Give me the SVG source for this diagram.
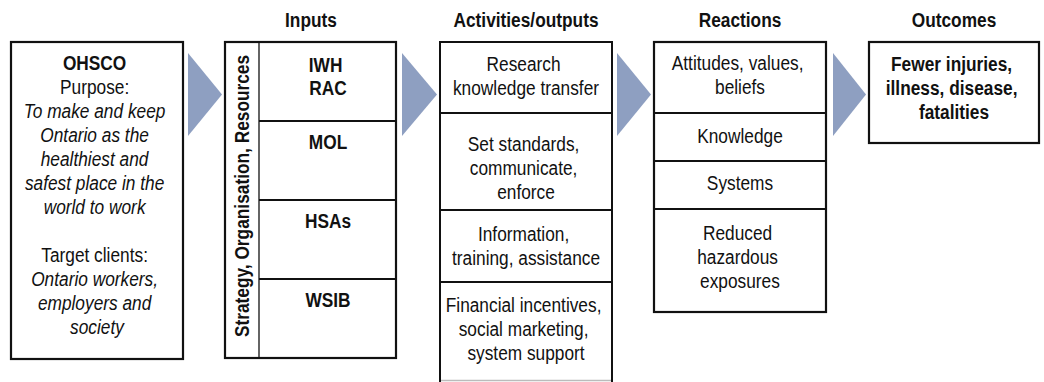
<svg xmlns="http://www.w3.org/2000/svg" width="1044" height="382" viewBox="0 0 1044 382">
<style>
  .box { fill: #ffffff; stroke: #111111; stroke-width: 2.2; }
  .div { stroke: #111111; stroke-width: 2; fill: none; }
  .thin { stroke: #111111; stroke-width: 1.3; fill: none; }
  .arrow { fill: #8e9fc1; stroke: none; }
  text { font-family: "Liberation Sans", Arial, sans-serif; font-size: 17.3px; fill: #111111; text-anchor: middle; }
  .b { font-weight: bold; }
  .i { font-style: italic; }
</style>
<rect width="1044" height="382" fill="#ffffff"/>

<g id="headers">
  <text class="b" transform="translate(311,27) scale(1,1.12)">Inputs</text>
  <text class="b" transform="translate(526,27) scale(1,1.12)">Activities/outputs</text>
  <text class="b" transform="translate(740,27) scale(1,1.12)">Reactions</text>
  <text class="b" transform="translate(954,27) scale(1,1.12)">Outcomes</text>
</g>

<g id="connectors">
  <polygon class="arrow" points="188,53 222,94.5 188,136"/>
  <polygon class="arrow" points="402,53 437,94.5 402,136"/>
  <polygon class="arrow" points="617,53 651,94.5 617,136"/>
  <polygon class="arrow" points="833,53 866,94.5 833,136"/>
</g>

<g id="ohsco">
  <rect class="box" x="11" y="42" width="172" height="317"/>
  <text transform="translate(97,70) scale(1,1.12)">
    <tspan class="b" x="0" y="0">OHSCO</tspan>
    <tspan x="0" y="21.43">Purpose:</tspan>
    <tspan class="i" x="0" y="42.86">To make and keep</tspan>
    <tspan class="i" x="0" y="64.29">Ontario as the</tspan>
    <tspan class="i" x="0" y="85.71">healthiest and</tspan>
    <tspan class="i" x="0" y="107.14">safest place in the</tspan>
    <tspan class="i" x="0" y="128.57">world to work</tspan>
    <tspan x="0" y="171.43">Target clients:</tspan>
    <tspan class="i" x="0" y="192.86">Ontario workers,</tspan>
    <tspan class="i" x="0" y="214.29">employers and</tspan>
    <tspan class="i" x="0" y="235.71">society</tspan>
  </text>
</g>

<g id="inputs">
  <rect class="box" x="225" y="42" width="171" height="316"/>
  <line class="thin" x1="259" y1="42" x2="259" y2="358"/>
  <line class="div" x1="259" y1="121" x2="396" y2="121"/>
  <line class="div" x1="259" y1="200" x2="396" y2="200"/>
  <line class="div" x1="259" y1="279" x2="396" y2="279"/>
  <text class="b" transform="translate(249,196) rotate(-90) scale(1,1.12)">Strategy, Organisation, Resources</text>
  <text class="b" transform="translate(328,72) scale(1,1.12)">
    <tspan x="0" y="0">IWH</tspan>
    <tspan x="0" y="20.54">RAC</tspan>
  </text>
  <text class="b" transform="translate(328,149) scale(1,1.12)">MOL</text>
  <text class="b" transform="translate(328,228) scale(1,1.12)">HSAs</text>
  <text class="b" transform="translate(328,307) scale(1,1.12)">WSIB</text>
</g>

<g id="activities">
  <line x1="439" y1="380.5" x2="613" y2="380.5" stroke="#bbbbbb" stroke-width="1.5"/>
  <path class="div" d="M440,382 V42 H612 V382" stroke-width="2.2"/>
  <line class="div" x1="440" y1="113" x2="612" y2="113"/>
  <line class="div" x1="440" y1="210" x2="612" y2="210"/>
  <line class="div" x1="440" y1="282" x2="612" y2="282"/>
  <text transform="translate(526,71) scale(1,1.12)">
    <tspan x="0" y="0">Research</tspan>
    <tspan x="0" y="21.43">knowledge transfer</tspan>
  </text>
  <text transform="translate(526,151) scale(1,1.12)">
    <tspan x="0" y="0">Set standards,</tspan>
    <tspan x="0" y="21.43">communicate,</tspan>
    <tspan x="0" y="42.86">enforce</tspan>
  </text>
  <text transform="translate(526,241) scale(1,1.12)">
    <tspan x="0" y="0">Information,</tspan>
    <tspan x="0" y="21.43">training, assistance</tspan>
  </text>
  <text transform="translate(526,312) scale(1,1.12)">
    <tspan x="0" y="0">Financial incentives,</tspan>
    <tspan x="0" y="21.43">social marketing,</tspan>
    <tspan x="0" y="42.86">system support</tspan>
  </text>
</g>

<g id="reactions">
  <rect class="box" x="654" y="42" width="172" height="270"/>
  <line class="div" x1="654" y1="113" x2="826" y2="113"/>
  <line class="div" x1="654" y1="161" x2="826" y2="161"/>
  <line class="div" x1="654" y1="209" x2="826" y2="209"/>
  <text transform="translate(740,70) scale(1,1.12)">
    <tspan x="0" y="0">Attitudes, values,</tspan>
    <tspan x="0" y="21.43">beliefs</tspan>
  </text>
  <text transform="translate(740,143) scale(1,1.12)">Knowledge</text>
  <text transform="translate(740,190) scale(1,1.12)">Systems</text>
  <text transform="translate(740,240) scale(1,1.12)">
    <tspan x="0" y="0">Reduced</tspan>
    <tspan x="0" y="21.43">hazardous</tspan>
    <tspan x="0" y="42.86">exposures</tspan>
  </text>
</g>

<g id="outcomes">
  <rect class="box" x="869" y="42" width="170" height="101"/>
  <text class="b" transform="translate(954,71) scale(1,1.12)">
    <tspan x="0" y="0">Fewer injuries,</tspan>
    <tspan x="0" y="21.43">illness, disease,</tspan>
    <tspan x="0" y="42.86">fatalities</tspan>
  </text>
</g>
</svg>
